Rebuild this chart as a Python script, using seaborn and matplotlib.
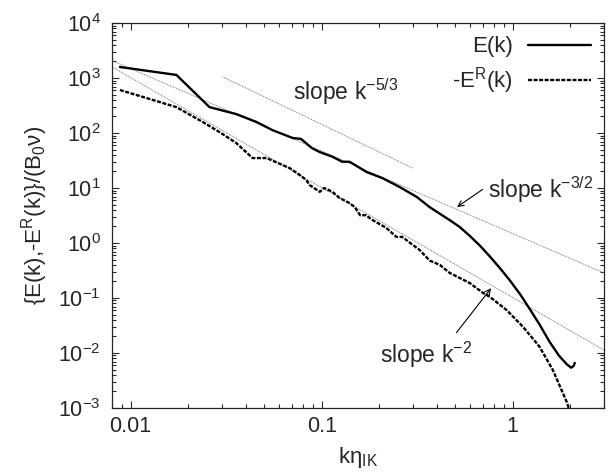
import matplotlib
matplotlib.use('Agg')
import numpy as np
import pandas as pd
import matplotlib.pyplot as plt
import seaborn as sns

# E(k)
k_E = [0.0088, 0.0174, 0.0259, 0.0357, 0.0457, 0.0552, 0.0706, 0.078, 0.089,
       0.0977, 0.114, 0.128, 0.140, 0.172, 0.209, 0.256, 0.314, 0.367, 0.40,
       0.468, 0.528, 0.595, 0.672, 0.758, 0.85, 0.964, 1.09, 1.22, 1.38, 1.56,
       1.75, 1.92, 2.02, 2.08, 2.11]
E_vals = [1585, 1135, 295, 221, 158, 113, 81, 78, 53,
          45, 37, 30, 30, 19.5, 15, 10.4, 6.9, 4.5, 3.7,
          2.6, 1.95, 1.35, 0.9, 0.57, 0.36, 0.21, 0.118, 0.065, 0.033, 0.0158,
          0.0088, 0.0062, 0.0054, 0.0058, 0.0066]

# -E^R(k)
k_ER = [0.0088, 0.0174, 0.0239, 0.0292, 0.0357, 0.0435, 0.0515, 0.068, 0.0768,
        0.083, 0.0865, 0.0977, 0.103, 0.114, 0.124, 0.140, 0.149, 0.159, 0.170,
        0.185, 0.218, 0.246, 0.264, 0.30, 0.325, 0.367, 0.415, 0.468, 0.595,
        0.70, 0.758, 0.93, 1.13, 1.38, 1.62, 1.92, 1.98]
ER_vals = [605, 295, 158, 104, 66, 35, 35, 23, 17.2,
           14, 11.3, 8.5, 10, 8.5, 6.6, 5.3, 4.5, 3.2, 3.2,
           2.6, 1.88, 1.29, 1.29, 0.92, 0.75, 0.48, 0.40, 0.285, 0.187,
           0.123, 0.105, 0.06, 0.03, 0.013, 0.0049, 0.00126, 0.0009]

# reference power-law lines (end points)
ref53_k, ref53_v = [0.0303, 0.30], [1050, 23]
ref32_k, ref32_v = [0.008, 3.0], [2070, 0.285]
ref2_k, ref2_v = [0.008, 3.0], [1590, 0.0113]

xtick_vals = [0.01, 0.1, 1]
xtick_labels = ['0.01', '0.1', '1']

sns.set_style('ticks')
plt.rcParams['font.family'] = ['Liberation Sans', 'DejaVu Sans']
plt.rcParams['mathtext.fontset'] = 'custom'
plt.rcParams['mathtext.rm'] = 'Liberation Sans'
plt.rcParams['mathtext.it'] = 'Liberation Sans'
plt.rcParams['mathtext.default'] = 'regular'
plt.rcParams['axes.unicode_minus'] = False

fig = plt.figure(figsize=(6.16, 4.76), dpi=100)
ax = fig.add_axes([0.1818, 0.1429, 0.7987, 0.8088])

df_E = pd.DataFrame({'k': k_E, 'v': E_vals})
df_ER = pd.DataFrame({'k': k_ER, 'v': ER_vals})

ref_style = dict(color='0.35', lw=0.6, linestyle=(0, (1, 1)))
for kk, vv in [(ref53_k, ref53_v), (ref32_k, ref32_v), (ref2_k, ref2_v)]:
    ax.plot(kk, vv, **ref_style)

sns.lineplot(data=df_E, x='k', y='v', ax=ax, color='black', lw=1.7,
             sort=False, label='E(k)')
sns.lineplot(data=df_ER, x='k', y='v', ax=ax, color='black', lw=1.7,
             sort=False, label='-E$^{R}$(k)')
ax.lines[-1].set_dashes((1.7, 0.65))

ax.set_xscale('log')
ax.set_yscale('log')
ax.set_xlim(0.008, 3)
ax.set_ylim(1e-3, 1e4)
ax.set_xticks(xtick_vals)
ax.set_xticklabels(xtick_labels)

ax.tick_params(which='both', direction='in', top=True, right=True,
               labelsize=15.5, width=0.8)
ax.tick_params(which='major', length=5)
ax.tick_params(which='minor', length=3)
ax.tick_params(axis='x', pad=6)
ax.tick_params(axis='y', pad=8)
for s in ax.spines.values():
    s.set_linewidth(0.9)

ax.set_xlabel('kη$_{IK}$', fontsize=16, va='top')
ax.xaxis.set_label_coords(0.5, -0.095)
ax.set_ylabel('{E(k),-E$^{R}$(k)}/(B$_0$ν)', fontsize=16, va='center')
ax.yaxis.set_label_coords(-0.157, 0.5)

ax.text(0.0705, 398, 'slope k$^{-5/3}$', fontsize=16.5, va='baseline')
ax.text(0.74, 6.6, 'slope k$^{-3/2}$', fontsize=16.5, va='baseline')
ax.text(0.201, 0.0066, 'slope k$^{-2}$', fontsize=16.5, va='baseline')
ax.annotate('', xy=(0.497, 4.22), xytext=(0.713, 10),
            arrowprops=dict(arrowstyle='->', lw=0.8, color='black'))
ax.annotate('', xy=(0.786, 0.165), xytext=(0.497, 0.0214),
            arrowprops=dict(arrowstyle='->', lw=0.8, color='black'))

leg = ax.legend(loc='upper right', frameon=False, markerfirst=False,
                fontsize=16, handlelength=2.8, handletextpad=0.7,
                labelspacing=0.35, borderaxespad=0.2)

fig.savefig('out.png', dpi=100)
